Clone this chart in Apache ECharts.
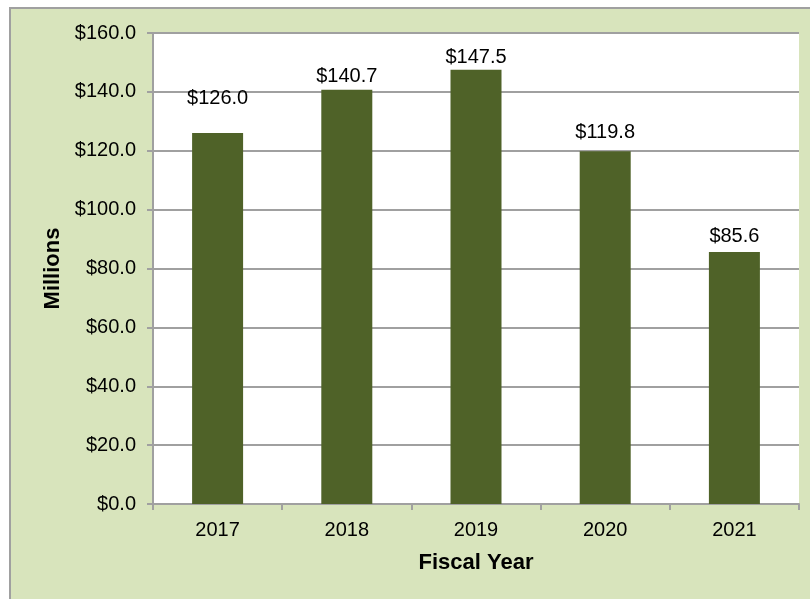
<!DOCTYPE html>
<html>
<head>
<meta charset="utf-8">
<script src="https://cdn.jsdelivr.net/npm/echarts@6/dist/echarts.min.js"></script>
<style>
  html, body { margin: 0; padding: 0; background: #ffffff; }
  #frame {
    position: absolute; left: 9px; top: 7px; width: 820px; height: 620px;
    background: #d8e4bc; border-left: 2px solid #a0a0a0; border-top: 2px solid #a0a0a0;
  }
  #chart { position: absolute; left: 0; top: 0; width: 810px; height: 599px; }
</style>
</head>
<body>
<div id="frame"></div>
<div id="chart"></div>
<script>
// Fiscal-year funding, in millions of dollars
const years = ['2017', '2018', '2019', '2020', '2021'];
const amounts = [126.0, 140.7, 147.5, 119.8, 85.6];
const yTicks = { min: 0, max: 160, interval: 20 };

// gap between each bar top and its value label
const labelGaps = [25, 3, 2, 9, 6];

const font = '"Liberation Sans", Arial, sans-serif';
const chart = echarts.init(document.getElementById('chart'), null, { renderer: 'canvas' });

chart.setOption({
  backgroundColor: 'transparent',
  animation: false,
  grid: { left: 153, top: 33, right: 11, bottom: 95, show: true, backgroundColor: '#ffffff', borderWidth: 0 },
  xAxis: {
    type: 'category',
    data: years,
    name: 'Fiscal Year',
    nameLocation: 'middle',
    nameGap: 48,
    nameTextStyle: { fontFamily: font, fontSize: 22, fontWeight: 'bold', color: '#000' },
    axisLine: { lineStyle: { color: '#a0a0a0', width: 2 } },
    axisTick: { show: true, length: 6, alignWithLabel: false, lineStyle: { color: '#a0a0a0', width: 2 } },
    axisLabel: { fontFamily: font, fontSize: 20, color: '#000', margin: 16 }
  },
  yAxis: {
    type: 'value',
    min: yTicks.min, max: yTicks.max, interval: yTicks.interval,
    name: 'Millions',
    nameLocation: 'middle',
    nameGap: 89,
    nameRotate: 90,
    nameTextStyle: { fontFamily: font, fontSize: 22, fontWeight: 'bold', color: '#000' },
    axisLine: { show: true, lineStyle: { color: '#a0a0a0', width: 2 } },
    axisTick: { show: true, length: 6, lineStyle: { color: '#a0a0a0', width: 2 } },
    axisLabel: { fontFamily: font, fontSize: 20, color: '#000', margin: 17,
      formatter: v => '$' + v.toFixed(1) },
    splitLine: { show: true, lineStyle: { color: '#a0a0a0', width: 2 } }
  },
  series: [{
    type: 'bar',
    barWidth: 51,
    itemStyle: { color: '#4f6228' },
    data: amounts.map((v, i) => ({
      value: v,
      label: { distance: labelGaps[i] }
    })),
    label: {
      show: true, position: 'top',
      fontFamily: font, fontSize: 20, color: '#000',
      formatter: p => '$' + p.value.toFixed(1)
    }
  }]
});
</script>
</body>
</html>
